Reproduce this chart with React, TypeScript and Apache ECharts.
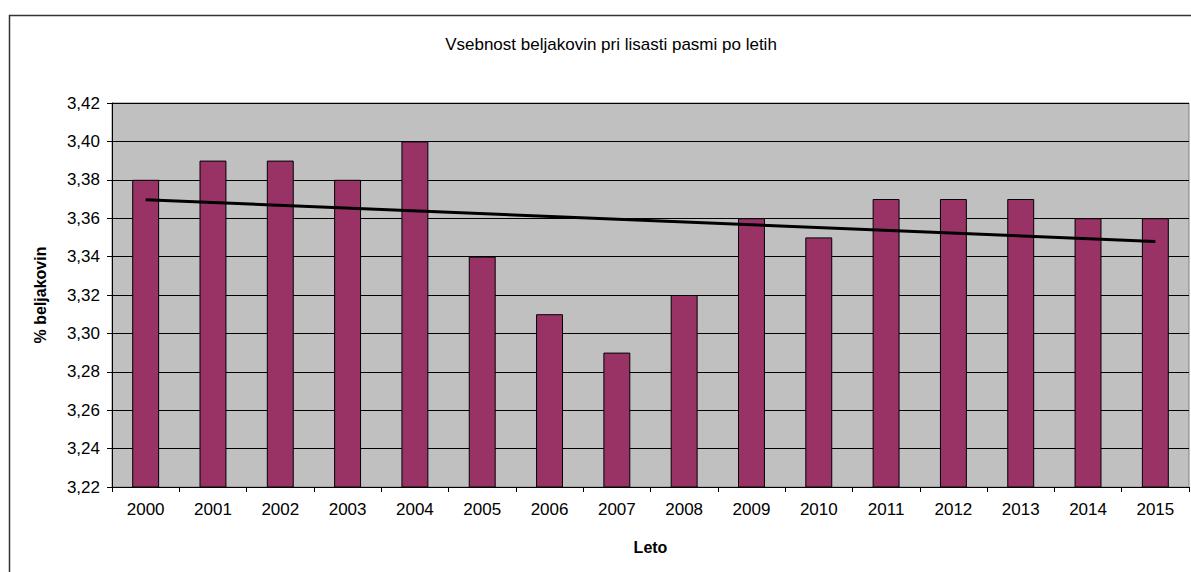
import React, { useEffect, useRef } from "react";
import * as echarts from "echarts";

const years = ["2000","2001","2002","2003","2004","2005","2006","2007","2008","2009","2010","2011","2012","2013","2014","2015"];
const protein = [3.38,3.39,3.39,3.38,3.40,3.34,3.31,3.29,3.32,3.36,3.35,3.37,3.37,3.37,3.36,3.36];
const trend: (number | string)[] = [3.3696,"-","-","-","-","-","-","-","-","-","-","-","-","-","-",3.3479];
const titleText = "Vsebnost beljakovin pri lisasti pasmi po letih";
const yName = "% beljakovin";
const xName = "Leto";

const FONT = "'Liberation Sans', Arial, sans-serif";

export default function App() {
  const ref = useRef<HTMLDivElement>(null);
  useEffect(() => {
    const chart = echarts.init(ref.current!, null, { renderer: "svg" });
    chart.setOption({
      animation: false,
      backgroundColor: "#ffffff",
      textStyle: { fontFamily: FONT },
      title: {
        text: titleText,
        left: 606,
        top: 31,
        textAlign: "center",
        textStyle: { fontFamily: FONT, fontSize: 17, fontWeight: "normal", color: "#000" },
      },
      graphic: [
        {
          type: "rect",
          shape: { x: 9.5, y: 15.5, width: 1300, height: 700 },
          style: { fill: "none", stroke: "#333", lineWidth: 1.5 },
          z: -1,
        },
      ],
      grid: {
        left: 112,
        top: 103,
        right: 2,
        bottom: 85,
        show: true,
        backgroundColor: "#C0C0C0",
        borderColor: "#808080",
        borderWidth: 1,
      },
      xAxis: {
        type: "category",
        data: years,
        name: xName,
        nameLocation: "middle",
        nameGap: 52,
        nameTextStyle: { fontFamily: FONT, fontSize: 16, fontWeight: "bold", color: "#000" },
        axisLine: { show: true, lineStyle: { color: "#000", width: 1 } },
        axisTick: { show: true, alignWithLabel: false, length: 5, lineStyle: { color: "#000" } },
        axisLabel: { fontFamily: FONT, fontSize: 17, color: "#000", margin: 14 },
        splitLine: { show: false },
      },
      yAxis: {
        type: "value",
        min: 3.22,
        max: 3.42,
        interval: 0.02,
        name: yName,
        nameLocation: "middle",
        nameGap: 64,
        nameTextStyle: { fontFamily: FONT, fontSize: 16, fontWeight: "bold", color: "#000" },
        axisLine: { show: true, lineStyle: { color: "#000", width: 1 } },
        axisTick: { show: true, length: 5, lineStyle: { color: "#000" } },
        axisLabel: {
          fontFamily: FONT,
          fontSize: 17,
          color: "#000",
          margin: 12,
          formatter: (v: number) => v.toFixed(2).replace(".", ","),
        },
        splitLine: { show: true, lineStyle: { color: "#000", width: 1 } },
      },
      series: [
        {
          type: "bar",
          data: protein,
          barWidth: "40%",
          itemStyle: { color: "#993366", borderColor: "#000", borderWidth: 1 },
        },
        {
          type: "line",
          data: trend,
          connectNulls: true,
          symbol: "none",
          lineStyle: { color: "#000", width: 3 },
          z: 5,
        },
      ],
    });
    return () => chart.dispose();
  }, []);
  return (
    <div
      ref={ref}
      style={{ position: "fixed", left: 0, top: 0, width: 1191, height: 572 }}
    />
  );
}
